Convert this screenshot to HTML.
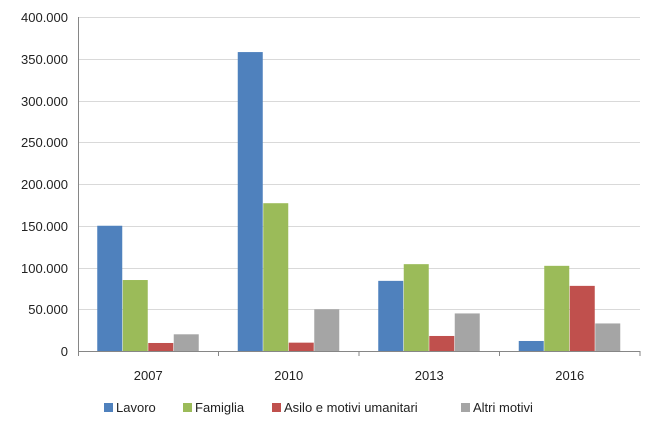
<!DOCTYPE html>
<html><head><meta charset="utf-8"><style>
body{margin:0;background:#fff;font-family:"Liberation Sans",sans-serif;}
svg text{font-family:"Liberation Sans",sans-serif;font-size:13px;fill:#222;}
</style></head><body>
<svg id="chart" width="660" height="432"></svg>
<script>
const categories=["2007","2010","2013","2016"];
const seriesNames=["Lavoro","Famiglia","Asilo e motivi umanitari","Altri motivi"];
const lavoro=[150000,358000,84000,12000];
const famiglia=[85000,177000,104000,102000];
const asilo=[9600,10000,18000,78000];
const altri=[20000,50000,45000,33000];
const yTicks=[0,50000,100000,150000,200000,250000,300000,350000,400000];
const yTickLabels=["0","50.000","100.000","150.000","200.000","250.000","300.000","350.000","400.000"];
const colors=["#4F81BD","#9BBB59","#C0504D","#A5A5A5"];
const series=[lavoro,famiglia,asilo,altri];
const NS="http://www.w3.org/2000/svg";
const svg=document.getElementById('chart');
const x0=78,x1=640,y0=351,y1=17;
const yS=v=>y0-(v/400000)*(y0-y1);
const bandW=(x1-x0)/categories.length;
const bw=25.5;
function mk(t,a){const e=document.createElementNS(NS,t);for(const k in a)e.setAttribute(k,a[k]);svg.appendChild(e);return e;}
yTicks.forEach((v,i)=>{
  const y=Math.round(yS(v))+0.5;
  const g=mk('line',{x1:x0,x2:x1,y1:y,y2:y,stroke:i===0?'#868686':'#d9d9d9','stroke-width':1});
  
  
  const t=mk('text',{x:x0-10,y:y+4.5,'text-anchor':'end'});
  t.textContent=yTickLabels[i];
  
  
});
const ax=mk('line',{x1:x0+0.5,x2:x0+0.5,y1:y1,y2:y0+5,stroke:'#868686'});


categories.forEach((c,ci)=>{
  const cx=x0+bandW*(ci+0.5);
  const start=cx-bw*2;
  series.forEach((s,si)=>{
    const y=yS(s[ci]);
    const r=mk('rect',{x:start+si*bw,y:y,width:bw-0.5,height:y0-y,fill:colors[si]});
    
    
  });
  const tk=mk('line',{x1:x0+bandW*(ci+1),x2:x0+bandW*(ci+1),y1:y0,y2:y0+5,stroke:'#868686'});
  
  
  const t=mk('text',{x:cx,y:380,'text-anchor':'middle'});
  t.textContent=c;
  
  
});
const legX=[104,183,272,461];
seriesNames.forEach((n,i)=>{
  const r=mk('rect',{x:legX[i],y:403,width:9,height:9,fill:colors[i]});
  
  
  const t=mk('text',{x:legX[i]+12,y:412});
  t.textContent=n;
  
  
});
</script>
</body></html>
